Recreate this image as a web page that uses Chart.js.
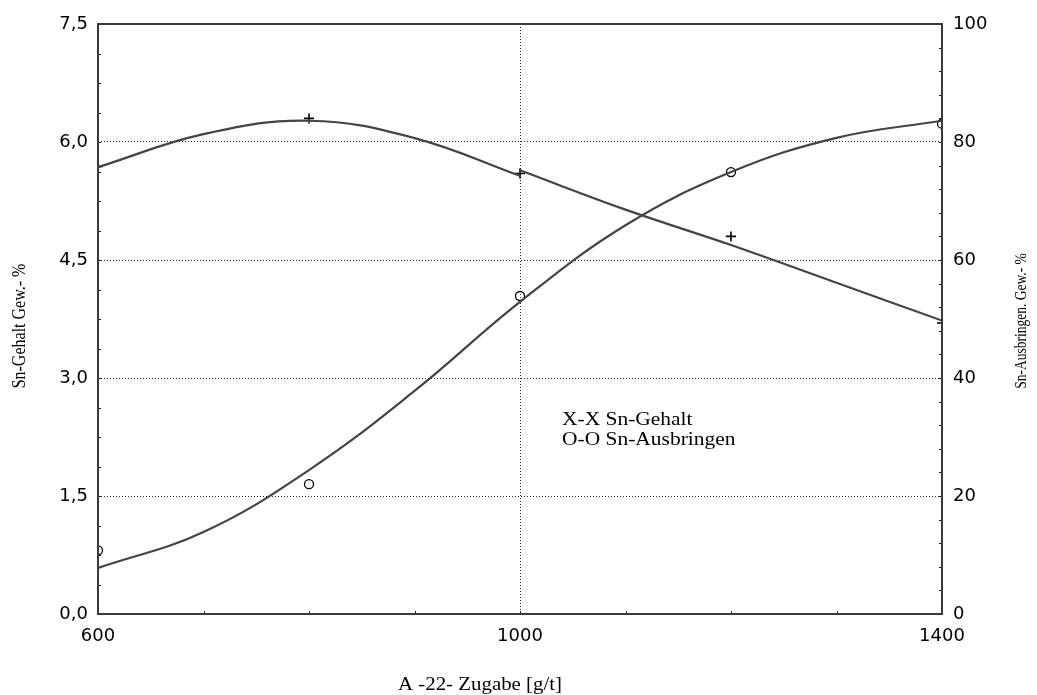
<!DOCTYPE html>
<html><head><meta charset="utf-8">
<script src="https://cdn.jsdelivr.net/npm/chart.js@4.4.0/dist/chart.umd.min.js"></script>
<style>html,body{margin:0;padding:0;background:#fff;overflow:hidden;}</style>
</head><body>
<canvas id="c" width="1037" height="695"></canvas>
<script>
// ---- data ----
const xTickValues = [600, 1000, 1400];
const markerX = [600, 800, 1000, 1200, 1400];
const gehaltPoints = [5.69, 6.30, 5.60, 4.80, 3.70];       // Sn-Gehalt (left axis, %)
const ausbringenPoints = [10.8, 22.0, 53.9, 74.9, 83.1];   // Sn-Ausbringen (right axis, %)
const gehaltCurveAX = [600, 700, 800, 900, 1000];
const gehaltCurveA = [5.68, 6.10, 6.27, 6.05, 5.57];
const gehaltCurveBX = [1000, 1100, 1200, 1300, 1400];
const gehaltCurveB = [5.64, 5.14, 4.69, 4.21, 3.73];
const ausbringenCurveX = [600, 700, 800, 900, 1000, 1100, 1200, 1300, 1400];
const ausbringenCurve = [7.8, 13.9, 24.4, 37.8, 52.9, 65.9, 74.9, 80.7, 83.6];
const leftTitle = 'Sn-Gehalt Gew.- %';
const rightTitle = 'Sn-Ausbringen. Gew.- %';
const xTitle = 'A -22- Zugabe [g/t]';
const legendLines = ['X-X Sn-Gehalt', 'O-O Sn-Ausbringen'];

const pts = (xs, ys) => xs.map((x, i) => ({x: x, y: ys[i]}));
const TICK_FONT = {family: '"DejaVu Sans"', size: 18};
const STRETCH = 1.16;

const framePlugin = {
  id: 'frame',
  afterDatasetsDraw(chart) {
    const {ctx, chartArea: a, scales} = chart;
    ctx.save();
    ctx.strokeStyle = '#222'; ctx.lineWidth = 1;
    ctx.beginPath();
    for (let v = 600; v <= 1400; v += 100) {
      const px = Math.round(scales.x.getPixelForValue(v)) + 0.5;
      ctx.moveTo(px, a.bottom); ctx.lineTo(px, a.bottom - 3);
    }
    for (let v = 0; v <= 7.5 + 1e-9; v += 0.375) {
      const py = Math.round(scales.y.getPixelForValue(v)) + 0.5;
      ctx.moveTo(a.left, py); ctx.lineTo(a.left + 3, py);
    }
    for (let v = 0; v <= 100; v += 4) {
      const py = Math.round(scales.y2.getPixelForValue(v)) + 0.5;
      ctx.moveTo(a.right, py); ctx.lineTo(a.right - 3, py);
    }
    ctx.stroke();
    ctx.strokeStyle = '#3a3a3a'; ctx.lineWidth = 2;
    ctx.strokeRect(a.left, a.top, a.right - a.left, a.bottom - a.top);
    ctx.restore();
  },
  afterDraw(chart) {
    const {ctx} = chart;
    ctx.save();
    ctx.fillStyle = '#000';
    ctx.textBaseline = 'alphabetic';
    ctx.save();
    ctx.font = '18px "Liberation Serif"';
    ctx.translate(480, 690); ctx.scale(STRETCH, 1);
    ctx.textAlign = 'center';
    ctx.fillText(xTitle, 0, 0);
    ctx.restore();
    ctx.save();
    ctx.font = '16px "Liberation Serif"';
    ctx.translate(20, 326); ctx.rotate(-Math.PI / 2); ctx.scale(1, STRETCH);
    ctx.textAlign = 'center'; ctx.textBaseline = 'middle';
    ctx.fillText(leftTitle, 0, 0);
    ctx.restore();
    ctx.save();
    ctx.font = '13.5px "Liberation Serif"';
    ctx.translate(1022, 321); ctx.rotate(-Math.PI / 2); ctx.scale(1, STRETCH);
    ctx.textAlign = 'center'; ctx.textBaseline = 'middle';
    ctx.fillText(rightTitle, 0, 0);
    ctx.restore();
    ctx.font = '18.5px "Liberation Serif"';
    legendLines.forEach((t, i) => {
      ctx.save();
      ctx.translate(562, 425 + i * 20); ctx.scale(STRETCH, 1);
      ctx.textAlign = 'left';
      ctx.fillText(t, 0, 0);
      ctx.restore();
    });
    ctx.restore();
  }
};

const curveStyle = {borderColor: '#444', borderWidth: 2.2, pointRadius: 0, fill: false,
  tension: 0.4, clip: 0, showLine: true};

new Chart(document.getElementById('c'), {
  type: 'line',
  data: {
    datasets: [
      Object.assign({label: 'gehaltA', data: pts(gehaltCurveAX, gehaltCurveA), yAxisID: 'y'}, curveStyle),
      Object.assign({label: 'gehaltB', data: pts(gehaltCurveBX, gehaltCurveB), yAxisID: 'y'}, curveStyle),
      Object.assign({label: 'ausbringen', data: pts(ausbringenCurveX, ausbringenCurve), yAxisID: 'y2'}, curveStyle),
      {label: 'Sn-Gehalt', data: pts(markerX, gehaltPoints), yAxisID: 'y', showLine: false,
       pointStyle: 'cross', pointRadius: 5, pointBorderColor: '#000', pointBorderWidth: 1.6,
       borderColor: '#000', clip: 0},
      {label: 'Sn-Ausbringen', data: pts(markerX, ausbringenPoints), yAxisID: 'y2', showLine: false,
       pointStyle: 'circle', pointRadius: 4.5, pointBorderColor: '#000', pointBorderWidth: 1.3,
       pointBackgroundColor: 'rgba(0,0,0,0)', borderColor: '#000', clip: 0}
    ]
  },
  options: {
    responsive: false,
    devicePixelRatio: 1,
    animation: false,
    layout: {padding: {top: 24, left: 0, right: 0, bottom: 0}},
    plugins: {legend: {display: false}, tooltip: {enabled: false}},
    scales: {
      x: {
        type: 'linear', min: 600, max: 1400,
        afterBuildTicks: s => { s.ticks = xTickValues.map(v => ({value: v})); },
        ticks: {font: TICK_FONT, color: '#000', padding: 12, maxRotation: 0, autoSkip: false,
          callback: v => String(v)},
        grid: {drawTicks: false, lineWidth: 1,
          color: c => (c.tick && c.tick.value === 1000) ? '#222' : 'rgba(0,0,0,0)'},
        border: {display: false, dash: [1, 2]},
        afterFit: s => { s.height = 81; }
      },
      y: {
        position: 'left', min: 0, max: 7.5,
        ticks: {stepSize: 1.5, font: TICK_FONT, color: '#000', padding: 10,
          callback: v => v.toFixed(1).replace('.', ',')},
        grid: {drawTicks: false, lineWidth: 1,
          color: c => (c.tick && (c.tick.value === 0 || c.tick.value === 7.5)) ? 'rgba(0,0,0,0)' : '#222'},
        border: {display: false, dash: [1, 2]},
        afterFit: s => { s.width = 98; }
      },
      y2: {
        position: 'right', min: 0, max: 100,
        ticks: {stepSize: 20, font: TICK_FONT, color: '#000', padding: 11},
        grid: {drawOnChartArea: false, drawTicks: false},
        border: {display: false},
        afterFit: s => { s.width = 95; }
      }
    }
  },
  plugins: [framePlugin]
});
</script>
</body></html>
